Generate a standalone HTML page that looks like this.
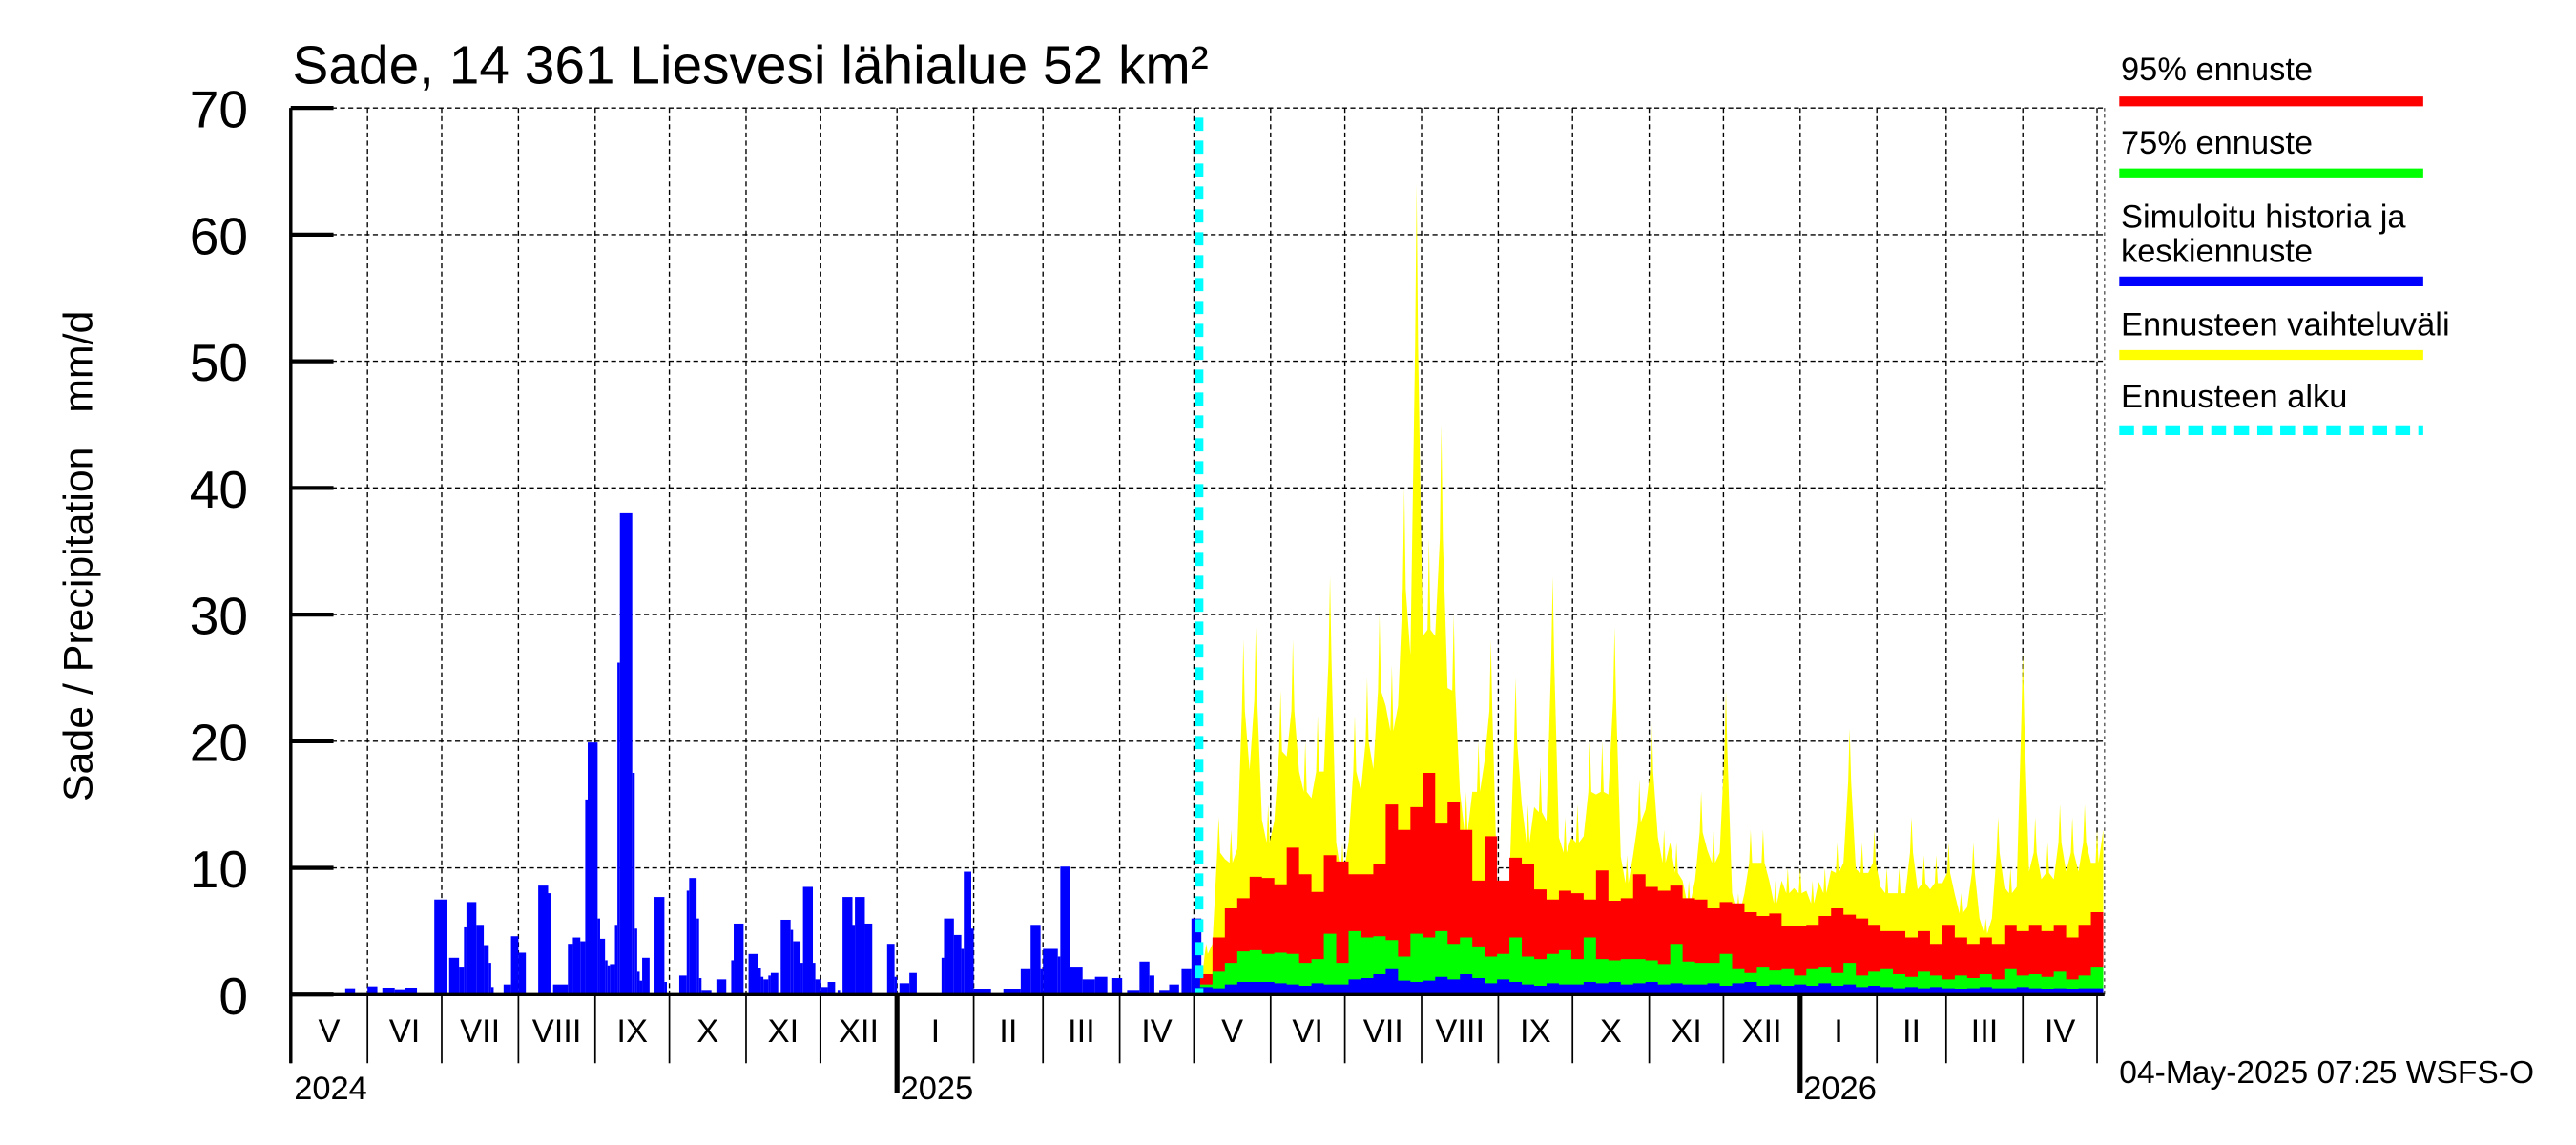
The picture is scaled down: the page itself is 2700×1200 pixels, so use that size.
<!DOCTYPE html>
<html><head><meta charset="utf-8"><style>
html,body{margin:0;padding:0;background:#fff;}
svg{display:block;}
text{font-family:"Liberation Sans",Arial,sans-serif;fill:#000;white-space:pre;}
</style></head><body>
<svg id="chart" width="2700" height="1200" viewBox="0 0 1568 700" preserveAspectRatio="none" xmlns="http://www.w3.org/2000/svg" xml:space="preserve">
<g id="grid"></g>
<g id="marks"></g>
<g id="axes"></g>
<text x="178" y="51" font-size="33">Sade, 14 361 Liesvesi lähialue 52 km²</text>
<text transform="translate(56,340) rotate(-90)" text-anchor="middle" font-size="25">Sade / Precipitation   mm/d</text>
<g font-size="20">
  <text x="1291" y="49">95% ennuste</text>
  <line x1="1290" x2="1475" y1="62" y2="62" stroke="#ff0000" stroke-width="6"/>
  <text x="1291" y="94">75% ennuste</text>
  <line x1="1290" x2="1475" y1="106" y2="106" stroke="#00ff00" stroke-width="6"/>
  <text x="1291" y="139">Simuloitu historia ja</text>
  <text x="1291" y="160">keskiennuste</text>
  <line x1="1290" x2="1475" y1="172" y2="172" stroke="#0000ff" stroke-width="6"/>
  <text x="1291" y="205">Ennusteen vaihteluväli</text>
  <line x1="1290" x2="1475" y1="217" y2="217" stroke="#ffff00" stroke-width="6"/>
  <text x="1291" y="249">Ennusteen alku</text>
  <line x1="1290" x2="1475" y1="263" y2="263" stroke="#00ffff" stroke-width="6" stroke-dasharray="9,5"/>
</g>
<text x="1290" y="662" font-size="19.5">04-May-2025 07:25 WSFS-O</text>
</svg>
<script>
// ---- data ----
const yTicks = [0,10,20,30,40,50,60,70];
const monthLabels = ["V","VI","VII","VIII","IX","X","XI","XII","I","II","III","IV","V","VI","VII","VIII","IX","X","XI","XII","I","II","III","IV"];
const monthStartDays = [0,31,61,92,123,153,184,214,245,276,304,335,365,396,426,457,488,518,549,579,610,641,669,700,730];
const yearLabels = ["2024","2025","2026"];
const yearStartDays = [0,245,610];
const forecastStartDay = 367.5;
// history: runs of days [start,end] with daily precipitation
const histStart = [22,31,37,42,46,58,64,68,70,71,75,78,80,81,86,89,92,100,104,106,112,114,117,119,120,124,125,127,128,129,131,132,133,138,139,140,141,142,147,151,157,160,161,164,165,166,172,178,179,185,189,190,191,193,194,198,202,203,206,207,211,212,214,217,221,223,227,228,232,241,244,246,250,263,264,268,271,272,275,276,288,295,299,303,304,310,311,315,320,325,332,338,343,347,351,355,360,364];
const histEnd   = [25,34,41,45,50,62,67,69,70,74,77,79,80,81,88,91,94,103,104,111,113,116,118,119,123,124,126,127,128,130,131,132,137,138,139,140,141,144,150,151,159,160,163,164,165,169,175,178,182,188,189,190,192,193,196,201,202,205,206,210,211,213,216,219,221,226,227,231,234,243,244,249,252,263,267,270,271,274,275,282,294,298,302,303,309,310,314,319,324,329,335,342,346,348,354,358,363,367];
const histVals  = [0.5,0.65,0.55,0.35,0.55,7.5,2.9,2.2,5.3,7.3,5.5,3.9,2.5,0.6,0.8,4.6,3.3,8.6,8.0,0.8,4.0,4.5,4.2,15.4,19.9,6.0,4.4,2.7,2.3,2.4,5.5,26.2,38,17.5,5.2,1.8,1.1,2.9,7.7,1.0,1.5,8.2,9.2,6.0,1.3,0.3,1.2,2.7,5.6,3.2,2.1,1.4,1.2,1.5,1.7,5.9,5.1,4.2,2.5,8.5,2.5,1.2,0.6,1.0,0.3,7.7,5.5,7.7,5.6,4.0,1.4,0.9,1.7,2.9,6.0,4.7,3.6,9.7,5.2,0.4,0.45,2.0,5.5,2.0,3.6,3.0,10.1,2.2,1.2,1.4,1.3,0.3,2.6,1.5,0.3,0.8,2.0,6.0];
// forecast, 5-day steps
const fcRange = [4,14,13,28,29,15,24,28,20,22,33,12,22,25,30,26,40,64,36,45,30,16,20,28,9,25,15,18,33,14,15,20,20,29,11,17,22,13,12,9,16,13,24,8,13,13,9,10,10,9,10,12,21,12,13,10,10,14,11,11,12,8,12,6,14,10,27,14,12,15,14,15,13];
const fc95 = [1.6,4.5,6.8,7.6,9.3,9.2,8.7,11.6,9.5,8.1,11,10.5,9.5,9.5,10.3,15,13,14.8,17.5,13.5,15.2,13,9,12.5,9,10.8,10.3,8.3,7.5,8.2,8,7.5,9.8,7.4,7.6,9.5,8.5,8.2,8.6,7.6,7.5,6.8,7.3,7.2,6.5,6.2,6.4,5.4,5.4,5.5,6.2,6.8,6.3,6,5.5,5,5,4.5,5,4,5.5,4.5,4,4.5,4,5.5,5,5.5,5,5.5,4.5,5.5,6.5];
const fc75 = [0.8,1.8,2.5,3.4,3.5,3.2,3.3,3.2,2.5,2.8,4.8,2.5,5,4.5,4.6,4.3,3,4.8,4.5,5,4,4.5,3.8,3,3.2,4.5,3,2.8,3.2,3.5,2.8,4.5,2.8,2.7,2.8,2.8,2.7,2.4,4,2.6,2.5,2.5,3.2,2,1.7,2.2,1.9,2,1.5,2,2.2,1.7,2.5,1.5,1.8,2,1.6,1.4,1.8,1.5,1.2,1.5,1.3,1.6,1.2,2,1.5,1.6,1.4,1.8,1.2,1.5,2.2];
const fcMean = [0.6,0.5,0.8,1,1,1,0.9,0.8,0.7,0.9,0.8,0.8,1.2,1.3,1.6,2,1.1,1,1.1,1.4,1.2,1.6,1.3,0.9,1.2,1.0,0.8,0.7,0.9,0.8,0.8,1.0,0.9,1.0,0.8,0.9,1.0,0.8,0.9,0.8,0.8,0.9,0.7,0.9,1.0,0.7,0.8,0.7,0.8,0.7,0.9,0.7,0.8,0.6,0.7,0.6,0.5,0.6,0.5,0.6,0.5,0.4,0.5,0.6,0.5,0.5,0.6,0.5,0.4,0.5,0.4,0.5,0.5];

// ---- scales ----
const X0=177, X1=1281, Y0=608, Y1=66, DAYS=733, YMAX=70;
function xOf(d){return X0+d*(X1-X0)/DAYS;}
function yOf(v){return Y0-v*(Y0-Y1)/YMAX;}
const NS="http://www.w3.org/2000/svg";
function mk(tag,attrs,parent){const e=document.createElementNS(NS,tag);for(const k in attrs)e.setAttribute(k,attrs[k]);parent.appendChild(e);return e;}
const grid=document.getElementById('grid'), marks=document.getElementById('marks'), axes=document.getElementById('axes');

// grid
yTicks.forEach(v=>{ if(v===0)return;
  const l=mk('line',{x1:X0,x2:X1,y1:yOf(v),y2:yOf(v),stroke:'#000','stroke-width':0.8,'stroke-dasharray':'3,2'},grid);
  
  
});
monthStartDays.forEach(d=>{ if(d===0)return;
  const l=mk('line',{x1:xOf(d),x2:xOf(d),y1:Y1,y2:Y0,stroke:'#000','stroke-width':0.8,'stroke-dasharray':'3,2'},grid);
  
  
});
const rb=mk('line',{x1:X1,x2:X1,y1:Y1,y2:Y0,stroke:'#555','stroke-width':0.8,'stroke-dasharray':'2,2'},grid);



// history bars
for(let i=0;i<histVals.length;i++){
  const x=xOf(histStart[i]), w=xOf(histEnd[i]+1)-x;
  const r=mk('rect',{x:x,y:yOf(histVals[i]),width:w,height:Y0-yOf(histVals[i]),fill:'#0000ff'},marks);
  
  
}
// forecast range (yellow): spiky peaks at step centres, troughs between
(function(){
  let pts=[[xOf(forecastStartDay),Y0]];
  const n=fcRange.length;
  for(let i=0;i<n;i++){
    const c=forecastStartDay+5*i+2.5;
    pts.push([xOf(c-0.6),yOf(fcRange[i]*0.8)]);
    pts.push([xOf(c),yOf(fcRange[i])]);
    pts.push([xOf(c+0.6),yOf(fcRange[i]*0.8)]);
    if(i<n-1){
      const t=Math.max(fc95[i],fc95[i+1])+0.3*Math.min(fcRange[i],fcRange[i+1]);
      pts.push([xOf(c+2.5),yOf(Math.min(t,Math.min(fcRange[i],fcRange[i+1])))]);
    }
  }
  pts.push([xOf(forecastStartDay+5*n),yOf(fcRange[n-1])]);
  pts.push([xOf(forecastStartDay+5*n),Y0]);
  const p=mk('polygon',{points:pts.map(p=>p.join(',')).join(' '),fill:'#ffff00'},marks);
  
  
})();
function stepArea(arr,color,name){
  let d='M'+xOf(forecastStartDay)+','+Y0;
  arr.forEach((v,i)=>{d+=' L'+xOf(forecastStartDay+5*i)+','+yOf(v)+' L'+xOf(forecastStartDay+5*(i+1))+','+yOf(v);});
  d+=' L'+xOf(forecastStartDay+5*arr.length)+','+Y0+' Z';
  const p=mk('path',{d:d,fill:color},marks);
  
  
}
stepArea(fc95,'#ff0000','forecast-95-area');
stepArea(fc75,'#00ff00','forecast-75-area');
stepArea(fcMean,'#0000ff','forecast-mean-area');
const fl=mk('line',{x1:xOf(forecastStartDay)-0.5,x2:xOf(forecastStartDay)-0.5,y1:72,y2:Y0,stroke:'#00ffff','stroke-width':5,'stroke-dasharray':'8,6'},marks);



// axes
const la=mk('line',{x1:X0,x2:X0,y1:Y1,y2:650,stroke:'#000','stroke-width':2},axes);


const ba=mk('line',{x1:X0,x2:X1,y1:Y0,y2:Y0,stroke:'#000','stroke-width':2},axes);


yTicks.forEach(v=>{
  const t=mk('line',{x1:X0,x2:203,y1:yOf(v),y2:yOf(v),stroke:'#000','stroke-width':2.5},axes);
  
  
  const tx=mk('text',{x:151,y:yOf(v)+12,'text-anchor':'end','font-size':32},axes);
  tx.textContent=v;
  
  
});
monthStartDays.forEach(d=>{
  const isYear=yearStartDays.indexOf(d)>=0 && d>0;
  const t=mk('line',{x1:xOf(d),x2:xOf(d),y1:Y0,y2:isYear?668:650,stroke:'#000','stroke-width':isYear?3:1},axes);
  
  
});
monthLabels.forEach((m,i)=>{
  const tx=mk('text',{x:(xOf(monthStartDays[i])+xOf(monthStartDays[i+1]))/2,y:637,'text-anchor':'middle','font-size':20},axes);
  tx.textContent=m;
  
  
});
yearLabels.forEach((yl,i)=>{
  const tx=mk('text',{x:xOf(yearStartDays[i])+2,y:672,'font-size':20},axes);
  tx.textContent=yl;
  
  
});
</script>
</body></html>
